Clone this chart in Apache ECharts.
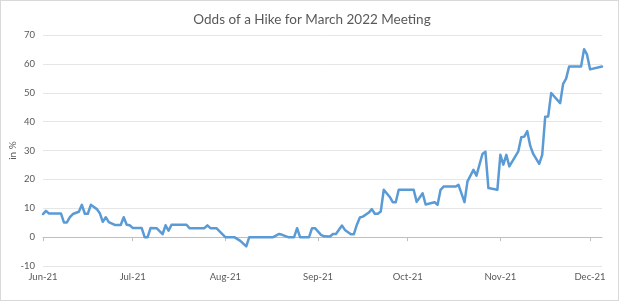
<!DOCTYPE html>
<html>
<head>
<meta charset="utf-8">
<script src="https://cdn.jsdelivr.net/npm/echarts@6/dist/echarts.min.js"></script>
<style>
html,body{margin:0;padding:0;background:#fff;}
#frame{position:absolute;left:0;top:0;width:619px;height:301px;border:1px solid #d9d9d9;box-sizing:border-box;}
#chart{position:absolute;left:0;top:0;width:624px;height:304px;}
</style>
</head>
<body>
<div id="frame"></div>
<div id="chart"></div>
<script>
const titleText = 'Odds of a Hike for March 2022 Meeting';
const yAxisName = 'in %';
const monthNames = ['Jan','Feb','Mar','Apr','May','Jun','Jul','Aug','Sep','Oct','Nov','Dec'];
const xMin = '2021-06-01';
const xMax = '2021-12-05';
const yTicks = [-10, 0, 10, 20, 30, 40, 50, 60, 70];

const dates = [
 '2021-06-01','2021-06-02','2021-06-03','2021-06-07','2021-06-08','2021-06-09','2021-06-10','2021-06-11',
 '2021-06-13','2021-06-14','2021-06-15','2021-06-16','2021-06-17','2021-06-19','2021-06-20','2021-06-21',
 '2021-06-22','2021-06-23','2021-06-25','2021-06-27','2021-06-28','2021-06-29','2021-06-30','2021-07-01',
 '2021-07-04','2021-07-05','2021-07-06','2021-07-07','2021-07-09','2021-07-11','2021-07-12','2021-07-13',
 '2021-07-14','2021-07-19','2021-07-20','2021-07-25','2021-07-26','2021-07-27','2021-07-29','2021-08-01',
 '2021-08-04','2021-08-06','2021-08-08','2021-08-09','2021-08-17','2021-08-19','2021-08-20','2021-08-22',
 '2021-08-24','2021-08-25','2021-08-26','2021-08-29','2021-08-30','2021-08-31','2021-09-02','2021-09-03',
 '2021-09-05','2021-09-06','2021-09-07','2021-09-09','2021-09-10','2021-09-12','2021-09-13','2021-09-14',
 '2021-09-15','2021-09-16','2021-09-18','2021-09-19','2021-09-20','2021-09-21','2021-09-22','2021-09-23',
 '2021-09-25','2021-09-26','2021-09-27','2021-09-28','2021-10-03','2021-10-04','2021-10-06','2021-10-07',
 '2021-10-10','2021-10-11','2021-10-12','2021-10-13','2021-10-17','2021-10-18','2021-10-20','2021-10-21',
 '2021-10-23','2021-10-24','2021-10-26','2021-10-27','2021-10-28','2021-10-31','2021-11-01','2021-11-02',
 '2021-11-03','2021-11-04','2021-11-07','2021-11-08','2021-11-09','2021-11-10','2021-11-11','2021-11-12',
 '2021-11-14','2021-11-15','2021-11-16','2021-11-17','2021-11-18','2021-11-21','2021-11-22','2021-11-23',
 '2021-11-24','2021-11-28','2021-11-29','2021-11-30','2021-12-01','2021-12-05'
];
const odds = [
 8.0, 9.1, 8.2, 8.2, 5.1, 5.1, 6.9, 8.0,
 8.8, 11.2, 8.1, 8.1, 11.2, 9.7, 8.3, 5.3,
 6.9, 5.2, 4.2, 4.2, 6.9, 4.3, 4.1, 3.2,
 3.2, 0, 0, 3.2, 3.1, 1.0, 4.1, 2.2,
 4.3, 4.3, 3.1, 3.1, 4.1, 3.1, 3.1, 0,
 0, -1.3, -3.2, 0, 0, 1.1, 0.8, 0,
 0, 3.1, 0, 0, 3.1, 3.1, 0.8, 0.3,
 0.2, 1.1, 1.1, 4.0, 2.5, 1.0, 1.0, 4.3,
 6.8, 7.1, 8.5, 9.7, 8.1, 8.1, 8.9, 16.4,
 13.9, 12.1, 12.1, 16.4, 16.4, 12.2, 15.2, 11.3,
 12.1, 11.2, 16.4, 17.5, 17.5, 18.1, 12.1, 19.3,
 23.3, 21.3, 28.8, 29.6, 17.0, 16.4, 28.5, 25.1,
 28.5, 24.5, 29.7, 34.6, 34.8, 36.7, 31.6, 28.8,
 25.4, 28.5, 41.7, 41.8, 49.9, 46.4, 53.1, 54.9,
 59.1, 59.1, 65.1, 63.2, 58.1, 59.1
];

const DAY = 86400000;
const chart = echarts.init(document.getElementById('chart'), null, {renderer: 'canvas'});
const font = 'Lato, "Open Sans", sans-serif';
chart.setOption({
  animation: false,
  backgroundColor: 'transparent',
  title: {
    text: titleText, left: 'center', top: 8,
    textStyle: {fontFamily: font, fontSize: 13.5, fontWeight: 'normal', color: '#595959'}
  },
  grid: {left: 43, right: 22, top: 35, bottom: 38, containLabel: false, outerBoundsMode: 'none'},
  xAxis: {
    type: 'time',
    min: xMin, max: xMax,
    splitNumber: 6,
    minInterval: 28 * DAY,
    maxInterval: 31 * DAY,
    axisLine: {onZero: true, lineStyle: {color: '#bfbfbf', width: 1}},
    axisTick: {show: true, length: 4, lineStyle: {color: '#bfbfbf'}},
    splitLine: {show: false},
    axisLabel: {
      margin: 6, fontFamily: font, fontSize: 9.5, color: '#595959',
      formatter: function (v) {
        const d = new Date(v);
        return monthNames[d.getMonth()] + '-' + String(d.getFullYear()).slice(2);
      }
    }
  },
  yAxis: {
    type: 'value',
    min: yTicks[0], max: yTicks[yTicks.length - 1], interval: 10,
    name: yAxisName, nameLocation: 'middle', nameGap: 25, nameMoveOverlap: false,
    nameTextStyle: {fontFamily: font, fontSize: 10, color: '#595959'},
    axisLine: {show: false}, axisTick: {show: false},
    splitLine: {lineStyle: {color: '#e6e6e6', width: 1}},
    axisLabel: {margin: 8, fontFamily: font, fontSize: 9.5, color: '#595959'}
  },
  series: [{
    type: 'line',
    data: dates.map((d, i) => [d, odds[i]]),
    showSymbol: false,
    symbol: 'none',
    lineStyle: {color: '#5b9bd5', width: 2.5, join: 'round', cap: 'round'},
    itemStyle: {color: '#5b9bd5'}
  }]
});
</script>
</body>
</html>
